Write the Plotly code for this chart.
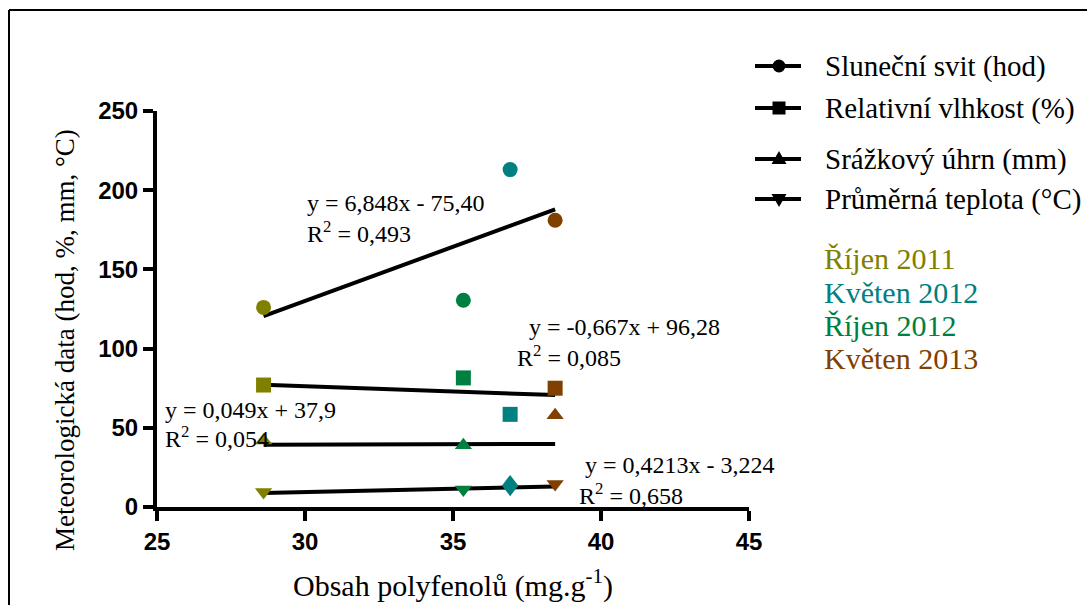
import plotly.graph_objects as go

# Polyphenol content and meteorological data per sampling period
periods = ["Říjen 2011", "Květen 2012", "Říjen 2012", "Květen 2013"]
period_colors = ["#808000", "#008080", "#008040", "#804000"]
polyphenols = [28.6, 36.93, 35.35, 38.45]

sunshine = [126, 213, 130.5, 181]        # Sluneční svit (hod)
humidity = [77, 58.5, 81.5, 75]          # Relativní vlhkost (%)
precipitation = [42, 15.5, 39, 58]       # Srážkový úhrn (mm)
temperature = [9.5, 11.5, 11, 14.5]      # Průměrná teplota (°C)

series_names = ["Sluneční svit (hod)", "Relativní vlhkost (%)",
                "Srážkový úhrn (mm)", "Průměrná teplota (°C)"]
series_values = [sunshine, humidity, precipitation, temperature]
series_symbols = ["circle", "square", "triangle-up", "triangle-down"]

# Linear regressions (slope, intercept) and their labels
fit_slopes = [6.848, -0.667, 0.049, 0.4213]
fit_intercepts = [-75.40, 96.28, 37.9, -3.224]
fit_equations = ["y = 6,848x - 75,40", "y = -0,667x + 96,28",
                 "y = 0,049x + 37,9", "y = 0,4213x - 3,224"]
fit_r2 = ["R<sup>2</sup> = 0,493", "R<sup>2</sup> = 0,085",
          "R<sup>2</sup> = 0,054", "R<sup>2</sup> = 0,658"]

x_ticks = [25, 30, 35, 40, 45]
y_ticks = [0, 50, 100, 150, 200, 250]

SERIF = "Liberation Serif, serif"
SANS = "Liberation Sans"

fig = go.Figure()

x_lo, x_hi = min(polyphenols), max(polyphenols)
for i, name in enumerate(series_names):
    # regression line
    fig.add_trace(go.Scatter(
        x=[x_lo, x_hi],
        y=[fit_slopes[i] * x_lo + fit_intercepts[i], fit_slopes[i] * x_hi + fit_intercepts[i]],
        mode="lines", line=dict(color="black", width=4),
        showlegend=False, hoverinfo="skip"))
    # measured points coloured by period
    fig.add_trace(go.Scatter(
        x=polyphenols, y=series_values[i], mode="markers", name=name,
        marker=dict(symbol=series_symbols[i], size=15, color=period_colors,
                    line=dict(width=0)),
        showlegend=False))

# plot-area geometry in pixels (for paper-coordinate placement)
L, R, T, B = 157, 749, 111, 507
W, H = R - L, B - T


def px(xp):
    return (xp - L) / W


def py(yp):
    return (B - yp) / H


def text_note(x, y, text, size, color="black", **kw):
    return dict(x=px(x), y=py(y), xref="paper", yref="paper",
                xanchor=kw.pop("xanchor", "left"), yanchor="middle",
                showarrow=False, text=text,
                font=dict(family=SERIF, size=size, color=color), **kw)


annotations = []
shapes = []

# legend: black line with series symbol, label to the right
legend_rows = [66, 108, 159, 199]
key_x0, key_x1, key_cx = 755, 801, 779
for name, symbol, row in zip(series_names, series_symbols, legend_rows):
    shapes.append(dict(type="line", xref="paper", yref="paper",
                       x0=px(key_x0), x1=px(key_x1), y0=py(row), y1=py(row),
                       line=dict(color="black", width=4)))
    r = 6.5
    if symbol == "circle":
        shapes.append(dict(type="circle", xref="paper", yref="paper",
                           x0=px(key_cx - r), x1=px(key_cx + r),
                           y0=py(row + r), y1=py(row - r),
                           fillcolor="black", line=dict(width=0)))
    elif symbol == "square":
        shapes.append(dict(type="rect", xref="paper", yref="paper",
                           x0=px(key_cx - r), x1=px(key_cx + r),
                           y0=py(row + r), y1=py(row - r),
                           fillcolor="black", line=dict(width=0)))
    else:
        tip = row - 8 if symbol == "triangle-up" else row + 8
        base = row + 5 if symbol == "triangle-up" else row - 5
        path = (f"M {px(key_cx - 7.5)},{py(base)} L {px(key_cx + 7.5)},{py(base)} "
                f"L {px(key_cx)},{py(tip)} Z")
        shapes.append(dict(type="path", xref="paper", yref="paper", path=path,
                           fillcolor="black", line=dict(width=0)))
    annotations.append(text_note(823, row, name, 29))

# regression equations
eq_pos = [((305, 203), (305, 232)), ((527, 327), (515, 356)),
          ((163, 410), (163, 437)), ((583, 465), (577, 494))]
for i in range(4):
    (ex, ey), (rx, ry) = eq_pos[i]
    annotations.append(text_note(ex, ey, fit_equations[i], 24))
    annotations.append(text_note(rx, ry, fit_r2[i], 24))

# period colour key
period_rows = [258, 292, 325, 358]
for name, color, row in zip(periods, period_colors, period_rows):
    annotations.append(text_note(822, row, name, 30, color))

# axis titles
annotations.append(text_note(65, 340, "Meteorologická data (hod, %, mm, °C)", 27,
                             xanchor="center", textangle=-90))
annotations.append(text_note(453, 583, "Obsah polyfenolů (mg.g<sup>-1</sup>)", 30,
                             xanchor="center"))

# outer frame (top and left edges)
shapes += [
    dict(type="line", xref="paper", yref="paper", x0=px(9), x1=px(1090),
         y0=py(10), y1=py(10), line=dict(color="black", width=2)),
    dict(type="line", xref="paper", yref="paper", x0=px(9), x1=px(9),
         y0=py(10), y1=py(610), line=dict(color="black", width=2)),
]

fig.update_layout(
    width=1087, height=605,
    margin=dict(l=L, r=1087 - R, t=T, b=605 - B),
    paper_bgcolor="white", plot_bgcolor="white",
    font=dict(family=SERIF, size=24, color="black"),
    showlegend=False,
    annotations=annotations, shapes=shapes,
)

axis_common = dict(
    showgrid=False, zeroline=False, showline=True, linecolor="black", linewidth=4,
    ticks="outside", ticklen=10, tickwidth=4, tickcolor="black",
    tickfont=dict(family=SANS, size=24, color="black", weight="bold"),
)
fig.update_xaxes(range=[25, 45], tickvals=x_ticks,
                 ticktext=[str(v) for v in x_ticks], **axis_common)
fig.update_yaxes(range=[0, 250], tickvals=y_ticks,
                 ticktext=[str(v) for v in y_ticks], **axis_common)

fig.write_html("out.html")
